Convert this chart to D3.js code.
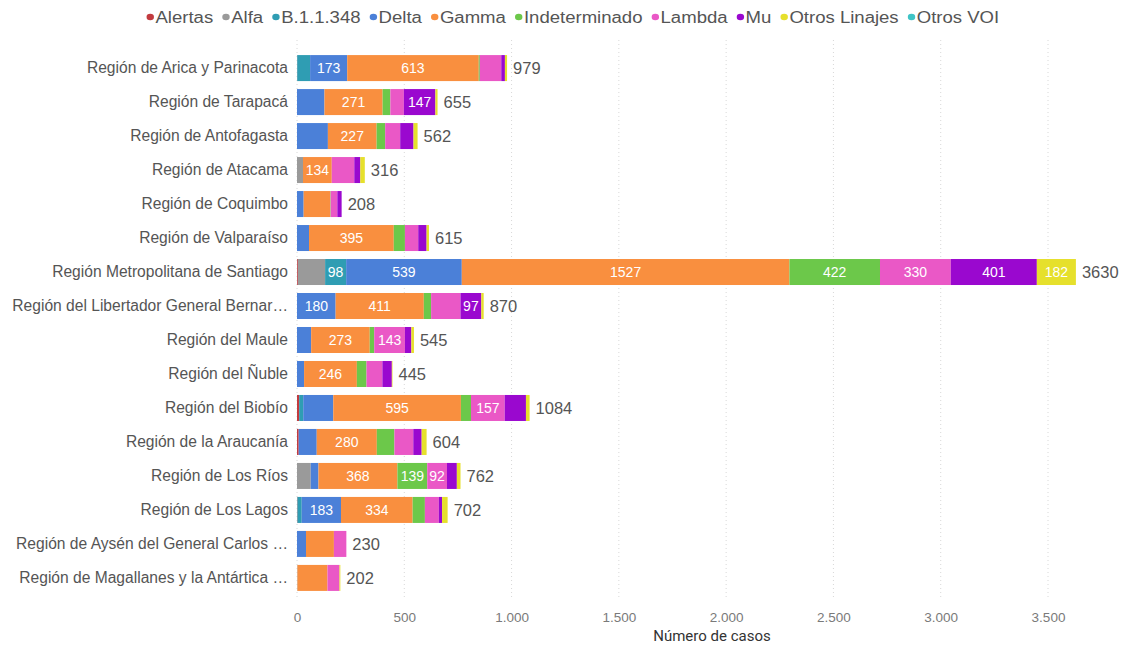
<!DOCTYPE html>
<html><head><meta charset="utf-8">
<script src="https://cdn.jsdelivr.net/npm/d3@7"></script>
<style>body{margin:0;background:#fff}svg{display:block}</style>
</head><body><svg id="c" width="1125" height="646"></svg>
<script>
const regions = [
 "Región de Arica y Parinacota","Región de Tarapacá","Región de Antofagasta","Región de Atacama",
 "Región de Coquimbo","Región de Valparaíso","Región Metropolitana de Santiago",
 "Región del Libertador General Bernar…","Región del Maule","Región del Ñuble","Región del Biobío",
 "Región de la Araucanía","Región de Los Ríos","Región de Los Lagos",
 "Región de Aysén del General Carlos …","Región de Magallanes y la Antártica …"];
const seriesNames = ["Alertas","Alfa","B.1.1.348","Delta","Gamma","Indeterminado","Lambda","Mu","Otros Linajes","Otros VOI"];
const seriesColors = ["#c23b3f","#9a9a9a","#2f9db3","#4b80d8","#f98f3f","#6cc84a","#ea58c6","#9a08cf","#e6e02c","#3fc4c6"];
// values per region, in seriesNames order
const alertas      = [1,0,0,0,0,0,4,0,0,0,10,8,0,2,0,0];
const alfa         = [0,0,0,28,0,0,127,0,0,0,0,0,64,0,0,2];
const b11348       = [60,0,0,0,0,0,98,0,0,0,19,0,0,20,0,0];
const delta        = [173,128,144,0,31,56,539,180,66,33,140,84,36,183,42,0];
const gamma        = [613,271,227,134,124,395,1527,411,273,246,595,280,368,334,130,140];
const indeterminado= [5,36,40,0,2,52,422,34,21,45,47,82,139,57,0,0];
const lambda       = [100,63,70,105,31,62,330,137,143,74,157,88,92,65,58,56];
const mu           = [17,147,62,28,20,39,401,97,30,44,99,39,46,15,0,0];
const otrosLinajes = [10,10,19,21,0,11,182,11,12,3,17,23,17,26,0,4];
const otrosVOI     = [0,0,0,0,0,0,0,0,0,0,0,0,0,0,0,0];
const totals       = [979,655,562,316,208,615,3630,870,545,445,1084,604,762,702,230,202];
const xTicks = [0,500,1000,1500,2000,2500,3000,3500];
// segments that carry a data label (region index | series)
const labelled = ["0|Delta","0|Gamma","1|Gamma","1|Mu","2|Gamma","3|Gamma","5|Gamma",
 "6|B.1.1.348","6|Delta","6|Gamma","6|Indeterminado","6|Lambda","6|Mu","6|Otros Linajes",
 "7|Delta","7|Gamma","7|Mu","8|Gamma","8|Lambda","9|Gamma","10|Gamma","10|Lambda",
 "11|Gamma","12|Gamma","12|Indeterminado","12|Lambda","13|Delta","13|Gamma"];

const cols = [alertas,alfa,b11348,delta,gamma,indeterminado,lambda,mu,otrosLinajes,otrosVOI];
const rows = regions.map((r,i)=>{const o={region:r,idx:i};seriesNames.forEach((s,j)=>o[s]=cols[j][i]);return o;});
const stack = d3.stack().keys(seriesNames)(rows);

const svg = d3.select("#c");
const font = "'Liberation Sans', Arial, sans-serif";
const x = d3.scaleLinear().domain([0,3500]).range([297,1048]);
const y = d3.scaleBand().domain(regions).range([51,595]).paddingInner(0.235).paddingOuter(0.12);
const color = d3.scaleOrdinal().domain(seriesNames).range(seriesColors);

// grid
svg.append("g").selectAll("line").data(xTicks).join("line")
  .attr("x1",d=>x(d)).attr("x2",d=>x(d)).attr("y1",40).attr("y2",600)
  .attr("stroke","#d8d8d8").attr("stroke-dasharray","1,3");

// x axis labels
const xa = svg.append("g").attr("transform","translate(0,606)")
  .call(d3.axisBottom(x).tickValues(xTicks).tickSize(0).tickPadding(6)
  .tickFormat(d=>d3.format(",")(d).replace(/,/g,".")));
xa.select(".domain").remove();
xa.selectAll("text").attr("fill","#7a7a7a").style("font-family",font).style("font-size","13.5px");
svg.append("text").attr("x",712).attr("y",641).attr("text-anchor","middle")
  .attr("fill","#333").style("font-family","Roboto, sans-serif").style("font-size","15px").text("Número de casos");

// y labels
const ya = svg.append("g").attr("transform","translate(288,0)")
  .call(d3.axisLeft(y).tickSize(0).tickPadding(0));
ya.select(".domain").remove();
ya.selectAll("text").attr("fill","#555").style("font-family",font).style("font-size","15.6px");

// bars
const layer = svg.append("g").selectAll("g").data(stack).join("g").attr("fill",d=>color(d.key));
layer.selectAll("rect").data(d=>d.map(v=>({v,key:d.key}))).join("rect")
  .attr("x",d=>x(d.v[0])).attr("width",d=>Math.max(0,x(d.v[1])-x(d.v[0])))
  .attr("y",d=>y(d.v.data.region)).attr("height",y.bandwidth());

// segment labels
const lab=[];
stack.forEach(s=>s.forEach(v=>{ if(labelled.includes(v.data.idx+"|"+s.key)) lab.push({v,key:s.key}); }));
svg.append("g").selectAll("text").data(lab).join("text")
  .attr("x",d=>(x(d.v[0])+x(d.v[1]))/2).attr("y",d=>y(d.v.data.region)+y.bandwidth()/2)
  .attr("dy","0.36em").attr("text-anchor","middle").attr("fill","#fff")
  .style("font-family",font).style("font-size","14px").text(d=>d.v[1]-d.v[0]);

// totals
svg.append("g").selectAll("text").data(rows).join("text")
  .attr("x",(d,i)=>x(totals[i])+6).attr("y",d=>y(d.region)+y.bandwidth()/2).attr("dy","0.36em")
  .attr("fill","#555").style("font-family",font).style("font-size","16.5px").text((d,i)=>totals[i]);

// legend
const lg = svg.append("g");
let cx=0;
seriesNames.forEach((s,i)=>{
  const g=lg.append("g").attr("transform",`translate(${cx},0)`);
  g.append("circle").attr("cx",3).attr("cy",0).attr("r",3.2).attr("fill",seriesColors[i]);
  const t=g.append("text").attr("x",7.5).attr("y",0).attr("dy","0.35em").attr("fill","#555")
    .style("font-family",font).style("font-size","16px").text(s);
  cx+=7.5+t.node().getComputedTextLength()+8;
});
const sx = 1.16, lw=(cx-8)*sx;
lg.attr("transform",`translate(${573-lw/2},17) scale(${sx},1)`);
</script></body></html>
